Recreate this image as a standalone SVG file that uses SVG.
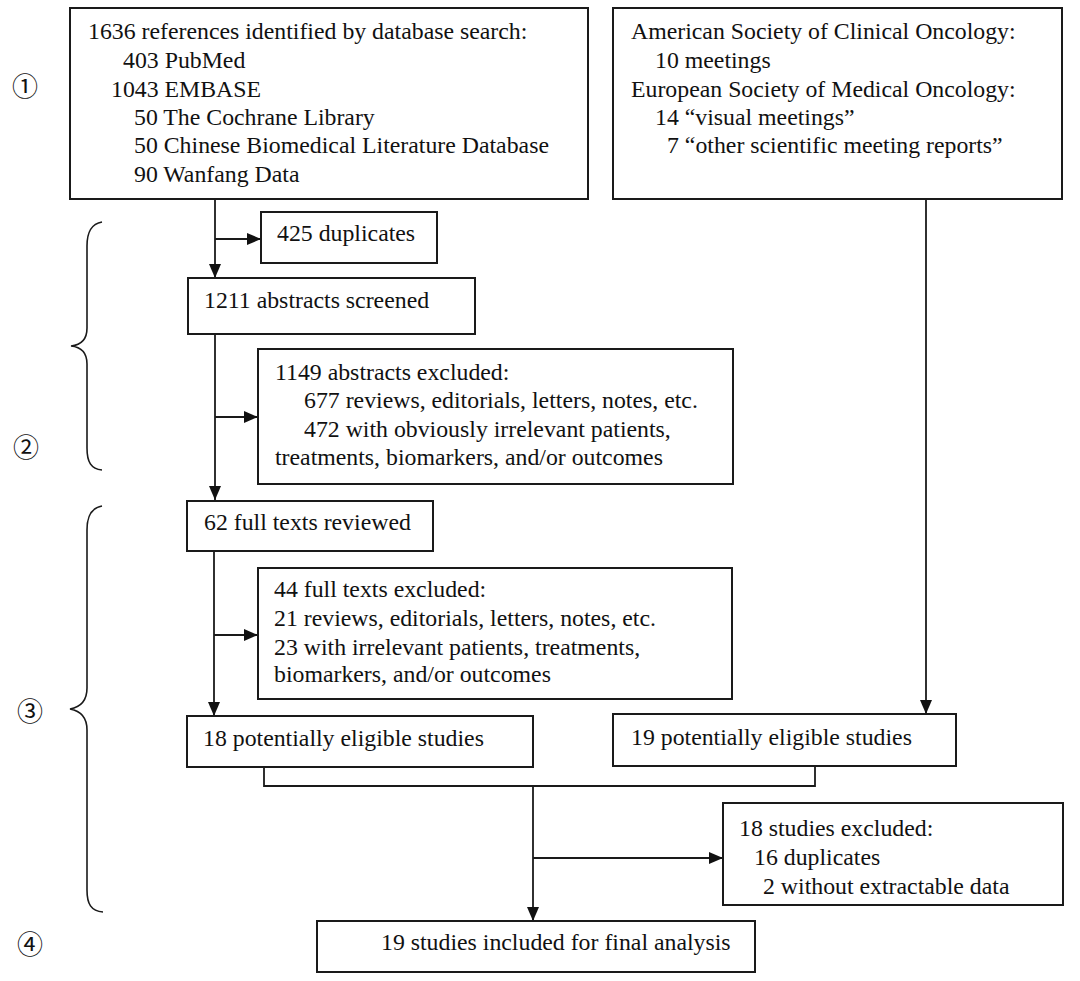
<svg xmlns="http://www.w3.org/2000/svg" width="1080" height="981" viewBox="0 0 1080 981">
<style>
  .box{fill:#ffffff;stroke:#1a1a1a;stroke-width:2}
  .t{font-size:23.8px;fill:#111111}
  .num{font-size:26px;fill:#111111;text-anchor:middle}
  .c{fill:none;stroke:#1a1a1a;stroke-width:1.8}
  .br{fill:none;stroke:#1a1a1a;stroke-width:1.6}
</style>
<defs>
  <marker id="ah" markerUnits="userSpaceOnUse" markerWidth="15" markerHeight="14" refX="14" refY="6" orient="auto">
    <path d="M0,0 L14,6 L0,12 z" fill="#111111"/>
  </marker>
</defs>
<rect width="1080" height="981" fill="#ffffff"/>

<g id="labels" font-family="'Noto Sans CJK SC', 'DejaVu Sans', sans-serif">
  <text class="num" x="25" y="96">①</text>
  <text class="num" x="26" y="457">②</text>
  <text class="num" x="30" y="721">③</text>
  <text class="num" x="30" y="954">④</text>
  <path class="br" d="M102,222 C91,224 87,232 87,246 L87,328 C87,339 81,345 71,346 C81,347 87,353 87,364 L87,448 C87,462 91,469 102,470"/>
  <path class="br" d="M102,506 C91,508 87,516 87,530 L87,688 C87,700 81,707 70,709 C81,711 87,718 87,730 L87,890 C87,904 91,911 103,912"/>
</g>

<g id="connectors">
  <path class="c" d="M215,199 V278" marker-end="url(#ah)"/>
  <path class="c" d="M215,239 H261" marker-end="url(#ah)"/>
  <path class="c" d="M215,334 V500" marker-end="url(#ah)"/>
  <path class="c" d="M215,417 H258" marker-end="url(#ah)"/>
  <path class="c" d="M214,551 V716" marker-end="url(#ah)"/>
  <path class="c" d="M214,635 H258" marker-end="url(#ah)"/>
  <path class="c" d="M926,199 V714" marker-end="url(#ah)"/>
  <path class="c" d="M264,767 V786 H815 V766"/>
  <path class="c" d="M533,786 V921" marker-end="url(#ah)"/>
  <path class="c" d="M533,858 H723" marker-end="url(#ah)"/>
</g>

<g id="nodes" font-family="'Liberation Serif', 'Times New Roman', 'DejaVu Serif', serif">
<g id="database">
  <rect class="box" x="70" y="8" width="518" height="191"/>
  <text class="t" x="88" y="39">1636 references identified by database search:</text>
  <text class="t" x="123" y="68">403 PubMed</text>
  <text class="t" x="111" y="97">1043 EMBASE</text>
  <text class="t" x="134" y="125">50 The Cochrane Library</text>
  <text class="t" x="134" y="153">50 Chinese Biomedical Literature Database</text>
  <text class="t" x="134" y="182">90 Wanfang Data</text>
</g>

<g id="meetings">
  <rect class="box" x="613" y="8" width="449" height="191"/>
  <text class="t" x="631" y="39">American Society of Clinical Oncology:</text>
  <text class="t" x="655" y="68">10 meetings</text>
  <text class="t" x="631" y="97">European Society of Medical Oncology:</text>
  <text class="t" x="655" y="125">14 “visual meetings”</text>
  <text class="t" x="667" y="153">7 “other scientific meeting reports”</text>
</g>

<g id="duplicates">
  <rect class="box" x="261" y="212" width="176" height="51"/>
  <text class="t" x="277" y="241">425 duplicates</text>
</g>

<g id="abstracts">
  <rect class="box" x="188" y="278" width="287" height="56"/>
  <text class="t" x="204" y="308">1211 abstracts screened</text>
</g>

<g id="abstracts-excluded">
  <rect class="box" x="258" y="349" width="475" height="135"/>
  <text class="t" x="275" y="380">1149 abstracts excluded:</text>
  <text class="t" x="304" y="408">677 reviews, editorials, letters, notes, etc.</text>
  <text class="t" x="304" y="437">472 with obviously irrelevant patients,</text>
  <text class="t" x="275" y="465">treatments, biomarkers, and/or outcomes</text>
</g>

<g id="fulltexts">
  <rect class="box" x="187" y="501" width="246" height="50"/>
  <text class="t" x="204" y="530">62 full texts reviewed</text>
</g>

<g id="fulltexts-excluded">
  <rect class="box" x="258" y="568" width="474" height="131"/>
  <text class="t" x="274" y="597">44 full texts excluded:</text>
  <text class="t" x="274" y="626">21 reviews, editorials, letters, notes, etc.</text>
  <text class="t" x="274" y="655">23 with irrelevant patients, treatments,</text>
  <text class="t" x="274" y="682">biomarkers, and/or outcomes</text>
</g>

<g id="eligible18">
  <rect class="box" x="187" y="716" width="346" height="51"/>
  <text class="t" x="203" y="746">18 potentially eligible studies</text>
</g>

<g id="eligible19">
  <rect class="box" x="613" y="714" width="343" height="52"/>
  <text class="t" x="631" y="745">19 potentially eligible studies</text>
</g>

<g id="studies-excluded">
  <rect class="box" x="723" y="803" width="340" height="102"/>
  <text class="t" x="739" y="836">18 studies excluded:</text>
  <text class="t" x="754" y="865">16 duplicates</text>
  <text class="t" x="763" y="894">2 without extractable data</text>
</g>

<g id="final">
  <rect class="box" x="317" y="921" width="438" height="51"/>
  <text class="t" x="381" y="950">19 studies included for final analysis</text>
</g>
</g>
</svg>
